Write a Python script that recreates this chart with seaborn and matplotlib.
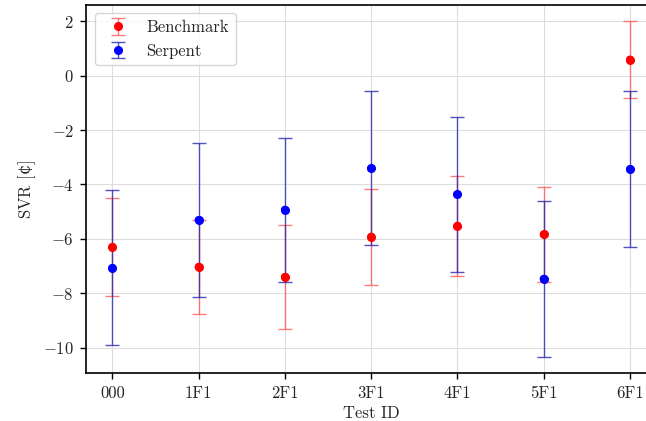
import matplotlib
matplotlib.use("Agg")
import matplotlib.pyplot as plt
import seaborn as sns
import pandas as pd
import numpy as np

tests = ["000", "1F1", "2F1", "3F1", "4F1", "5F1", "6F1"]
bench_val = [-6.30, -7.03, -7.40, -5.92, -5.52, -5.84, 0.59]
bench_err = [1.80, 1.73, 1.90, 1.77, 1.84, 1.75, 1.40]
serp_val = [-7.07, -5.31, -4.93, -3.41, -4.37, -7.47, -3.44]
serp_err = [2.85, 2.83, 2.65, 2.83, 2.86, 2.86, 2.87]

sns.set_theme(style="whitegrid")
plt.rcParams["font.family"] = ["cmr10", "DejaVu Serif"]
plt.rcParams["mathtext.fontset"] = "custom"
plt.rcParams["mathtext.rm"] = "DejaVu Serif"
plt.rcParams["mathtext.it"] = "DejaVu Serif"
plt.rcParams["axes.formatter.use_mathtext"] = True
plt.rcParams["axes.unicode_minus"] = True

fig = plt.figure(figsize=(6.46, 4.21), dpi=100)
ax = fig.add_axes([0.1339, 0.1131, 0.8814, 0.8757])

df = pd.DataFrame({
    "test": tests * 2,
    "x": list(range(len(tests))) * 2,
    "svr": bench_val + serp_val,
    "err": bench_err + serp_err,
    "src": ["Benchmark"] * len(tests) + ["Serpent"] * len(tests),
})

styles = {
    "Benchmark": dict(color="red", ecolor=(1.0, 0.3, 0.3, 0.75)),
    "Serpent": dict(color="blue", ecolor=(0.15, 0.15, 0.7, 0.8)),
}
for name in ["Benchmark", "Serpent"]:
    sub = df[df.src == name]
    ax.errorbar(sub.x, sub.svr, yerr=sub.err, fmt="o", color=styles[name]["color"],
                ecolor=styles[name]["ecolor"], elinewidth=1.0, capsize=5, capthick=1.0,
                markersize=5.5, label=name, zorder=2)

sns.scatterplot(data=df, x="x", y="svr", hue="src",
                palette={"Benchmark": "red", "Serpent": "blue"},
                s=34, edgecolor="none", legend=False, ax=ax, zorder=3)

ax.set_xticks(range(len(tests)))
ax.set_xticklabels(tests)
ax.set_xlim(-0.3, 6.3)
ax.set_yticks([2, 0, -2, -4, -6, -8, -10])
ax.set_xlabel("Test ID", fontsize=12, labelpad=3)
ax.set_ylabel(r"SVR [$\mathrm{¢}$]", fontsize=12, labelpad=4)
ax.tick_params(axis="both", labelsize=12, length=4, width=1, color="black",
               bottom=True, left=True, direction="out", pad=5)
ax.grid(True, color="#dddddd", linewidth=0.8)
for s in ["left", "bottom", "top", "right"]:
    ax.spines[s].set_color("black")
    ax.spines[s].set_linewidth(1.2)

leg = ax.legend(loc="upper left", fontsize=12, frameon=True, fancybox=True,
                borderaxespad=0.5, handletextpad=0.7)
leg.get_frame().set_edgecolor("#cccccc")
leg.get_frame().set_facecolor("white")
leg.get_frame().set_alpha(0.8)

fig.savefig("out.png", dpi=100)
